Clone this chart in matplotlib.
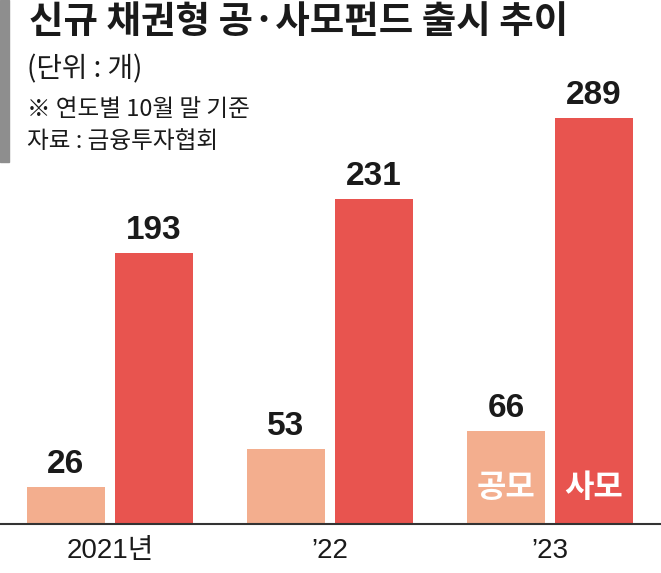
import matplotlib
matplotlib.use("Agg")
import matplotlib.pyplot as plt
import numpy as np
from matplotlib.patches import Rectangle

categories = ["2021년", "’22", "’23"]
public_vals = [26, 53, 66]
private_vals = [193, 231, 289]
series_names = ["공모", "사모"]

W, H = 661, 573
fig = plt.figure(figsize=(W / 100, H / 100), dpi=100)

base_px = 524
ax = fig.add_axes([0, (H - base_px) / H, 1, base_px / H])
ax.set_ylim(0, base_px / 1.406)
ax.set_xlim(-0.5, -0.5 + W / 220)

c_pub = "#F3AE8E"
c_priv = "#E8544F"
x = np.arange(len(categories))
bw = 78 / 220
off = 44 / 220

num_font = ["Liberation Sans Narrow", "Liberation Sans", "DejaVu Sans"]
kr_font = ["Noto Sans CJK KR", "DejaVu Sans"]

ax.bar(x - off, public_vals, bw, color=c_pub, zorder=2)
ax.bar(x + off, private_vals, bw, color=c_priv, zorder=2)

for xs, vals in ((x - off, public_vals), (x + off, private_vals)):
    for xi, v in zip(xs, vals):
        ax.annotate(str(v), (xi, v), xytext=(0, 14), textcoords="offset pixels",
                    ha="center", va="baseline", fontsize=24, fontweight="bold",
                    family=num_font, color="#1a1a1a")

# in-bar legend labels on last group
for xi, name in zip((x[-1] - off, x[-1] + off), series_names):
    ax.annotate(name, (xi, 0), xytext=(0, 36), textcoords="offset pixels",
                ha="center", va="center", fontsize=23, fontweight="bold",
                family=kr_font, color="white")

for s in ["top", "left", "right"]:
    ax.spines[s].set_visible(False)
ax.spines["bottom"].set_color("#333333")
ax.spines["bottom"].set_linewidth(1.5)
ax.set_yticks([])
ax.set_xticks(x)
ax.set_xticklabels(categories, fontsize=20,
                   family=["Liberation Sans Narrow", "Liberation Sans", "Noto Sans CJK KR"],
                   color="#1a1a1a")
ax.tick_params(axis="x", length=0, pad=10)
ax.patch.set_alpha(0)

# header
fig.patches.append(Rectangle((0, 1 - 162 / H), 9 / W, 162 / H, transform=fig.transFigure,
                             color="#8e8e8e", zorder=0))
fig.text(29 / W, 1 - 21 / H, "신규 채권형 공·사모펀드 출시 추이", fontsize=27, fontweight="heavy",
         family=kr_font, va="center", ha="left", color="#1a1a1a")
fig.text(27 / W, 1 - 69 / H, "(단위 : 개)", fontsize=20, family=kr_font,
         va="center", ha="left", color="#1a1a1a")
fig.text(27 / W, 1 - 110 / H, "※ 연도별 10월 말 기준", fontsize=17, family=kr_font,
         va="center", ha="left", color="#1a1a1a")
fig.text(27 / W, 1 - 141 / H, "자료 : 금융투자협회", fontsize=17, family=kr_font,
         va="center", ha="left", color="#1a1a1a")

fig.savefig("out.png", dpi=100)
